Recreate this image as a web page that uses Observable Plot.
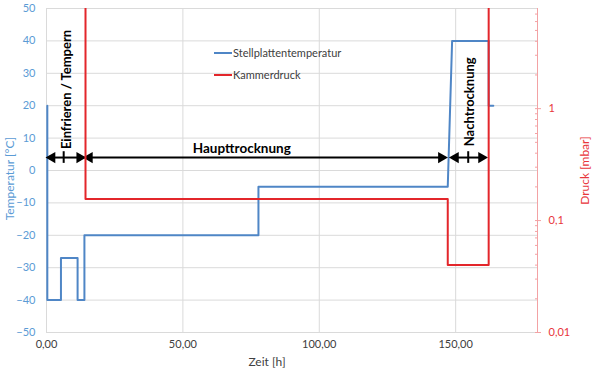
<!DOCTYPE html>
<html><head><meta charset="utf-8">
<script src="https://cdn.jsdelivr.net/npm/d3@7"></script>
<script src="https://cdn.jsdelivr.net/npm/@observablehq/plot@0.6"></script>
<style>
html,body{margin:0;padding:0;background:#fff;}
#wrap{position:relative;width:595px;height:370px;font-family:Lato,sans-serif;overflow:hidden;}
#wrap svg{position:absolute;left:0;top:0;}
.leg{position:absolute;left:214px;font-size:11px;color:#404040;line-height:14px;white-space:nowrap;}
.leg i{display:inline-block;width:18px;height:2px;vertical-align:middle;margin-right:1px;position:relative;top:-1px;}
</style></head><body><div id="wrap"></div>
<script>
// Stellplattentemperatur (time in h, temperature in °C)
const tempTime = [0.3, 0.3, 5.3, 5.3, 11.4, 11.4, 13.9, 13.9, 77.7, 77.7, 147.1, 148.7, 162.1, 162.1, 163.8];
const tempValue = [20, -40, -40, -27, -27, -40, -40, -20, -20, -5, -5, 40, 40, 20, 20];
// Kammerdruck (time in h, pressure in mbar) – atmospheric outside the vacuum phase
const pressTime = [0, 14.3, 14.3, 147.1, 147.1, 162.1, 162.1];
const pressValue = [1000, 1000, 0.156, 0.156, 0.04, 0.04, 1000];
// axes
const xDomain = [0, 180];
const xTicks = [0, 50, 100, 150];
const tempDomain = [-50, 50];
const tempTicks = [-50, -40, -30, -20, -10, 0, 10, 20, 30, 40, 50];
const pressDomain = [0.01, 7.85];
const pressTicks = [0.01, 0.1, 1];
const pressMinor = [0.02,0.03,0.04,0.05,0.06,0.07,0.08,0.09,0.2,0.3,0.4,0.5,0.6,0.7,0.8,0.9,2,3,4,5,6,7];
// process phases
const phaseName = ["Einfrieren / Tempern", "Haupttrocknung", "Nachtrocknung"];
const phaseStart = [1.3, 15.0, 149.2];
const phaseEnd = [12.9, 145.5, 160.2];
const phaseLabelT = [7.3, 71.6, 155.3];
const phaseLabelV = [25.0, 6.7, 21.2];
const phaseArrowV = [4, 4, 4];
const phaseBarT = [6.3, null, 154.6];

const W = 595, H = 370, mL = 46, mR = 58, mT = 8, mB = 38;
const BLUE = "#5b9bd5", LINEBLUE = "#4f86c6", RED = "#e8363b", LINERED = "#e3262b", AXRED = "#f3a2a4", GRID = "#dadada";
const fmtX = d => d.toFixed(2).replace(".", ",");
const fmtP = d => String(d).replace(".", ",");

const tempData = tempTime.map((t, i) => ({t, v: tempValue[i]}));
const pressData = pressTime.map((t, i) => ({t, p: pressValue[i]}));
const phases = phaseName.map((name, i) => ({name, start: phaseStart[i], end: phaseEnd[i], lt: phaseLabelT[i], lv: phaseLabelV[i], av: phaseArrowV[i], bar: phaseBarT[i]}));
const base = {width: W, height: H, marginLeft: mL, marginRight: mR, marginTop: mT, marginBottom: mB};

const p1 = Plot.plot({
  ...base,
  style: {fontFamily: "Lato, sans-serif", fontSize: "11px", background: "#fff", overflow: "visible"},
  x: {domain: xDomain},
  y: {domain: tempDomain},
  marks: [
    Plot.gridY(tempTicks, {stroke: GRID, strokeOpacity: 1}),
    Plot.gridX(xTicks, {stroke: GRID, strokeOpacity: 1}),
    Plot.axisY(tempTicks, {tickSize: 0, tickPadding: 11, fill: BLUE, label: null, fontSize: 11}),
    Plot.axisX(xTicks, {tickSize: 0, tickPadding: 8, tickFormat: fmtX, fill: "#404040", label: null, fontSize: 11}),
    Plot.text(["Temperatur [°C]"], {frameAnchor: "left", dx: -36, dy: 8, rotate: -90, textAnchor: "middle", lineAnchor: "middle", fill: BLUE, fontSize: 12}),
    Plot.text(["Zeit [h]"], {frameAnchor: "bottom", dx: -25, dy: 30, textAnchor: "middle", lineAnchor: "middle", fill: "#404040", fontSize: 12}),
    Plot.line(tempData, {x: "t", y: "v", stroke: LINEBLUE, strokeWidth: 2}),
    Plot.link(phases, {x1: "start", x2: "end", y1: "av", y2: "av", stroke: "#000", strokeWidth: 2}),
    Plot.dot(phases, {x: "start", y: "av", symbol: "triangle", rotate: -90, fill: "#000", r: 4.2, dx: 2}),
    Plot.dot(phases, {x: "end", y: "av", symbol: "triangle", rotate: 90, fill: "#000", r: 4.2, dx: -2}),
    Plot.ruleX(phases.filter(d => d.bar != null), {x: "bar", y1: d => d.av - 1.8, y2: d => d.av + 1.8, stroke: "#000", strokeWidth: 2}),
    Plot.text(phases.filter(d => d.name !== "Haupttrocknung"), {x: "lt", y: "lv", text: "name", rotate: -90, textAnchor: "middle", lineAnchor: "middle", fontWeight: "bold", fontSize: 13, fill: "#000"}),
    Plot.text(phases.filter(d => d.name === "Haupttrocknung"), {x: "lt", y: "lv", text: "name", textAnchor: "middle", lineAnchor: "middle", fontWeight: "bold", fontSize: 13.5, fill: "#000"})
  ]
});

const p2 = Plot.plot({
  ...base,
  style: {fontFamily: "Lato, sans-serif", fontSize: "11px", background: "none", overflow: "visible"},
  x: {domain: xDomain, axis: null},
  y: {type: "log", domain: pressDomain},
  marks: [
    Plot.ruleX([xDomain[1]], {stroke: AXRED, strokeWidth: 1}),
    Plot.axisY(pressMinor, {anchor: "right", tickSize: 3, dx: -3, tickFormat: () => "", stroke: AXRED, label: null}),
    Plot.axisY(pressTicks, {anchor: "right", tickSize: 6, dx: -3, tickPadding: 8, tickFormat: fmtP, stroke: AXRED, fill: RED, label: null, fontSize: 11}),
    Plot.text(["Druck [mbar]"], {frameAnchor: "right", dx: 48, rotate: -90, textAnchor: "middle", lineAnchor: "middle", fill: RED, fontSize: 12}),
    Plot.line(pressData, {x: "t", y: "p", stroke: LINERED, strokeWidth: 2, clip: true})
  ]
});

const wrap = document.getElementById("wrap");
wrap.appendChild(p1);
wrap.appendChild(p2);
const legItems = [["Stellplattentemperatur", LINEBLUE, 46], ["Kammerdruck", LINERED, 68]];
for (const [label, color, top] of legItems) {
  const d = document.createElement("div");
  d.className = "leg";
  d.style.top = top + "px";
  d.innerHTML = `<i style="background:${color}"></i>${label}`;
  wrap.appendChild(d);
}
</script>
</body></html>
